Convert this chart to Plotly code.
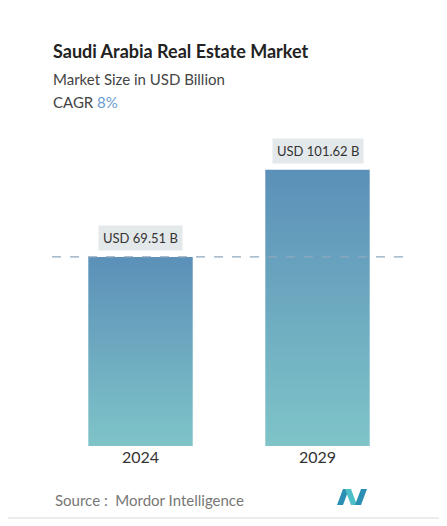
import plotly.graph_objects as go

years = ["2024", "2029"]
values = [69.51, 101.62]
labels = ["USD 69.51 B", "USD 101.62 B"]

OFF = 8  # page body margin
W, H = 439, 518
L, R, T, B = 44, 41, 122, 80
PW, PH = W - L - R, H - T - B
YMAX = 116.2
BAR_W = 0.295


def px_x(p):
    return (p - OFF - L) / PW


def px_y(p):
    return (OFF + H - B - p) / PH


fig = go.Figure()

# bars drawn as gradient-filled polygons
for i, v in enumerate(values):
    fig.add_trace(go.Scatter(
        x=[i - BAR_W, i + BAR_W, i + BAR_W, i - BAR_W, i - BAR_W],
        y=[0, 0, v, v, 0],
        fill="toself", mode="lines", line=dict(width=0),
        fillgradient=dict(type="vertical",
                          colorscale=[[0, "#7fc4c8"], [1, "#5b90b8"]],
                          start=0, stop=v),
        hoverinfo="skip", showlegend=False,
    ))

for i, (v, lab) in enumerate(zip(values, labels)):
    fig.add_annotation(x=i, y=v, text=lab, showarrow=False, yshift=19,
                       bgcolor="#e3e8ea", borderpad=4,
                       font=dict(family="Lato", size=13, color="#333"))

fig.add_hline(y=values[0], line=dict(color="#8fa8c0", width=1.2, dash="dash"))

fig.add_annotation(xref="paper", yref="paper", x=px_x(51), y=px_y(51),
                   xanchor="left", yanchor="middle", showarrow=False,
                   text="<b>Saudi Arabia Real Estate Market</b>",
                   font=dict(family="Lato", size=18, color="#222"))
fig.add_annotation(xref="paper", yref="paper", x=px_x(51), y=px_y(79),
                   xanchor="left", yanchor="middle", showarrow=False,
                   text="Market Size in USD Billion",
                   font=dict(family="Lato", size=15, color="#444"))
fig.add_annotation(xref="paper", yref="paper", x=px_x(51), y=px_y(102),
                   xanchor="left", yanchor="middle", showarrow=False,
                   text="CAGR <span style='color:#6a9ccc'>8%</span>",
                   font=dict(family="Lato", size=15, color="#444"))
fig.add_annotation(xref="paper", yref="paper", x=px_x(53), y=px_y(500),
                   xanchor="left", yanchor="middle", showarrow=False,
                   text="Source :  Mordor Intelligence",
                   font=dict(family="Lato", size=15, color="#777"))

# card border
fig.add_shape(type="rect", xref="paper", yref="paper",
              x0=px_x(2), x1=px_x(444), y0=px_y(518), y1=px_y(-10),
              line=dict(color="#e6e6e6", width=1.5), layer="below")


# logo
def poly(pts, color):
    d = "M " + " L ".join(f"{px_x(a)},{px_y(b)}" for a, b in pts) + " Z"
    fig.add_shape(type="path", xref="paper", yref="paper", path=d,
                  fillcolor=color, line=dict(width=0))


poly([(337, 505), (343, 489), (349, 489), (343, 505)], "#2a8fb3")
poly([(345, 489), (351, 489), (357, 505), (351, 505)], "#4cc0c6")
poly([(355, 505), (361, 489), (367, 489), (361, 505)], "#2a8fb3")

fig.update_layout(
    width=W, height=H, margin=dict(l=L, r=R, t=T, b=B),
    paper_bgcolor="white", plot_bgcolor="white",
    xaxis=dict(range=[-0.5, 1.5], tickvals=[0, 1], ticktext=years,
               showgrid=False, zeroline=False, showline=False,
               tickfont=dict(family="Lato", size=16, color="#333"), ticklen=0),
    yaxis=dict(range=[0, YMAX], visible=False),
    showlegend=False,
)

fig.write_html("out.html")
